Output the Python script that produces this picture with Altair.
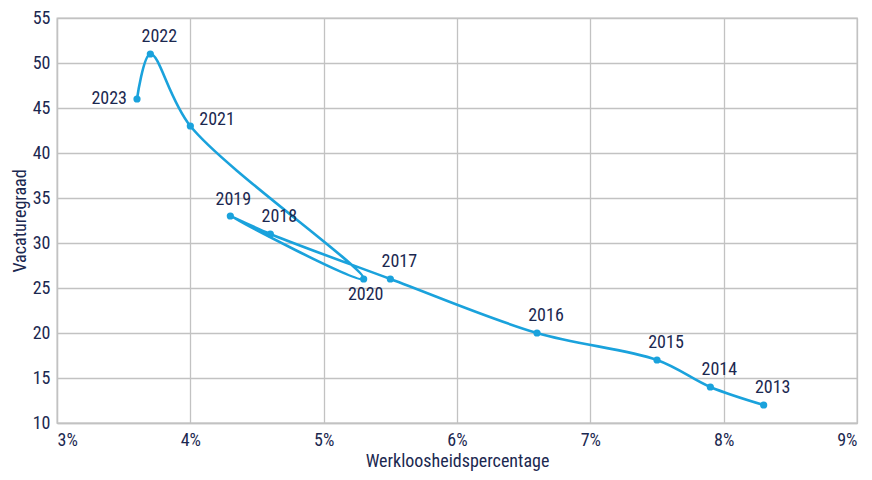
import altair as alt
import pandas as pd

years = [2013, 2014, 2015, 2016, 2017, 2018, 2019, 2020, 2021, 2022, 2023]
werkloosheid = [8.3, 7.9, 7.5, 6.6, 5.5, 4.6, 4.3, 5.3, 4.0, 3.7, 3.6]
vacaturegraad = [12, 14, 17, 20, 26, 31, 33, 26, 43, 51, 46]

df = pd.DataFrame({"jaar": years, "x": werkloosheid, "y": vacaturegraad})
df["label"] = df["jaar"].astype(str)

FONT = "Roboto Condensed, Noto Sans Condensed, Open Sans Condensed, Liberation Sans Narrow, Roboto, sans-serif"
FS = 18
TXT = "#1b2850"
BLUE = "#1aa2dc"

xs = alt.X("x:Q", scale=alt.Scale(domain=[3, 9], nice=False),
           axis=alt.Axis(values=[3, 4, 5, 6, 7, 8, 9], title="Werkloosheidspercentage",
                         labelExpr="datum.value + '%'"))
ys = alt.Y("y:Q", scale=alt.Scale(domain=[10, 55], nice=False, zero=False),
           axis=alt.Axis(values=[10, 15, 20, 25, 30, 35, 40, 45, 50, 55], title="Vacaturegraad"))

base = alt.Chart(df).encode(x=xs, y=ys)

line = base.mark_line(interpolate="catmull-rom", color=BLUE, strokeWidth=2.6).encode(order="jaar:O")
pts = base.mark_circle(color=BLUE, size=52, opacity=1)


def lab(filt, **kw):
    return base.transform_filter(filt).mark_text(
        font=FONT, fontSize=FS, color=TXT, baseline="middle", **kw).encode(text="label:N")


above = lab(alt.FieldOneOfPredicate(field="jaar", oneOf=[2013, 2014, 2015, 2016, 2017, 2018, 2022]),
            align="center", dx=9, dy=-17)
a2019 = lab(alt.datum.jaar == 2019, align="center", dx=3, dy=-16)
below = lab(alt.datum.jaar == 2020, align="center", dx=2, dy=16)
left = lab(alt.datum.jaar == 2023, align="right", dx=-10, dy=0)
right = lab(alt.datum.jaar == 2021, align="left", dx=9, dy=-6)

chart = alt.layer(line, pts, above, a2019, below, left, right).properties(
    width=800, height=405,
    autosize=alt.AutoSizeParams(type="none"),
    padding={"left": 49, "top": 10, "right": 7, "bottom": 49},
).configure_view(stroke="#c2c2c2", strokeWidth=1.3).configure_axis(
    grid=True, gridColor="#c2c2c2", gridWidth=1.3, gridOpacity=1,
    domainColor="#c2c2c2", domainWidth=1.3, ticks=False,
    labelFont=FONT, labelFontSize=FS, labelColor=TXT,
    titleFont=FONT, titleFontSize=FS, titleColor=TXT, titleFontWeight="normal",
).configure_axisX(labelPadding=8, titlePadding=3).configure_axisY(labelPadding=7, titlePadding=3)

chart.save("out.html", embed_options={"renderer": "svg", "actions": False})
